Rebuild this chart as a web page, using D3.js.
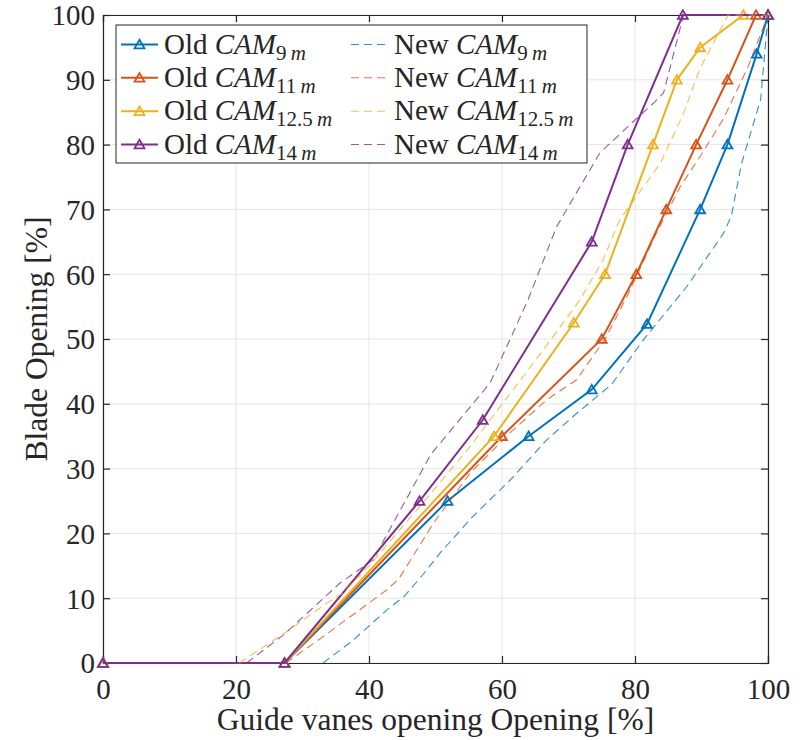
<!DOCTYPE html>
<html><head><meta charset="utf-8">
<script src="https://cdn.jsdelivr.net/npm/d3@7"></script>
<style>body{margin:0;background:#fff}</style>
</head><body><svg id="c" width="804" height="740"></svg>
<script>
// ---------- data ----------
const xTicks = [0, 20, 40, 60, 80, 100];
const yTicks = [0, 10, 20, 30, 40, 50, 60, 70, 80, 90, 100];

const oldX9   = [0, 27.3, 51.8, 64, 73.5, 81.8, 89.8, 93.9, 98.3, 100];
const oldY9   = [0, 0, 25, 35, 42.2, 52.3, 70, 80, 94, 100];
const oldX11  = [0, 27.3, 60, 75, 80.2, 84.7, 89.2, 93.9, 98.2, 100];
const oldY11  = [0, 0, 35, 50, 60, 70, 80, 90, 100, 100];
const oldX125 = [0, 27.3, 58.8, 70.8, 75.5, 82.7, 86.3, 89.8, 96.3, 100];
const oldY125 = [0, 0, 35, 52.5, 60, 80, 90, 95, 100, 100];
const oldX14  = [0, 27.3, 47.6, 57.1, 73.5, 78.9, 87.2, 100];
const oldY14  = [0, 0, 25, 37.5, 65, 80, 100, 100];

const newX9   = [33.1, 37.6, 42.7, 45.3, 48, 50.7, 55.6, 61.2, 66.7, 71.2, 76.5, 81.2, 87.8, 93.3, 94.5, 96, 98.9, 100];
const newY9   = [0, 3.5, 8.2, 10.3, 13.5, 17, 22.6, 28.2, 34.4, 38.5, 43, 49.8, 58.1, 66.3, 69, 77, 87, 100];
const newX11  = [27.5, 33, 42.7, 44.5, 49.7, 55.2, 61.2, 66.7, 71.2, 75.5, 79, 83.2, 86.8, 90, 93.3, 97, 100];
const newY11  = [0, 4, 11.3, 13, 21.6, 29.3, 35.5, 40.6, 43.7, 50, 57, 66.3, 73.5, 78.5, 84, 92, 100];
const newX125 = [20.5, 28, 33.6, 36.1, 40, 45, 50, 55.2, 58.2, 66.2, 71.7, 75.2, 77.7, 83.8, 87.2, 89.8, 94, 100];
const newY125 = [0, 5.1, 9.2, 10.8, 15, 21, 27, 33.4, 37.5, 48.3, 56, 62.2, 68.4, 77.1, 84.6, 91.8, 100, 100];
const newX14  = [21.6, 27.1, 35.6, 40.6, 49.3, 58.2, 63.9, 68.2, 74.7, 80, 83, 84.3, 87.3, 100];
const newY14  = [0, 4.3, 12.3, 15.9, 32.2, 43.2, 56, 67.3, 78.7, 83.8, 86.6, 88, 100, 100];

const subs   = ["9", "11", "12.5", "14"];
const colors = ["#0072BD", "#D95319", "#EDB120", "#7E2F8E"];
const xLabel = "Guide vanes opening Opening [%]";
const yLabel = "Blade Opening [%]";

// ---------- layout ----------
const FONT = "'Liberation Serif', 'Times New Roman', serif";
const svg = d3.select("#c");
const L = 103, R = 768, T = 15, B = 663;
const x = d3.scaleLinear().domain([0, 100]).range([L, R]);
const y = d3.scaleLinear().domain([0, 100]).range([B, T]);

// grid
const g = svg.append("g");
g.selectAll(".gx").data(xTicks).enter().append("line")
  .attr("x1", d => x(d)).attr("x2", d => x(d)).attr("y1", T).attr("y2", B)
  .attr("stroke", "#e5e5e5").attr("stroke-width", 1);
g.selectAll(".gy").data(yTicks).enter().append("line")
  .attr("y1", d => y(d)).attr("y2", d => y(d)).attr("x1", L).attr("x2", R)
  .attr("stroke", "#e5e5e5").attr("stroke-width", 1);

// axes
const axB = svg.append("g").attr("transform", `translate(0,${B})`)
  .call(d3.axisBottom(x).tickValues(xTicks).tickSize(-7).tickPadding(15));
const axT = svg.append("g").attr("transform", `translate(0,${T})`)
  .call(d3.axisTop(x).tickValues(xTicks).tickSize(-7).tickFormat(""));
const axL = svg.append("g").attr("transform", `translate(${L},0)`)
  .call(d3.axisLeft(y).tickValues(yTicks).tickSize(-7).tickPadding(8));
const axR = svg.append("g").attr("transform", `translate(${R},0)`)
  .call(d3.axisRight(y).tickValues(yTicks).tickSize(-7).tickFormat(""));
[axB, axT, axL, axR].forEach(a => {
  a.attr("font-family", null).attr("font-size", null);
  a.select(".domain").attr("stroke", "#262626").attr("stroke-width", 1.2);
  a.selectAll(".tick line").attr("stroke", "#262626").attr("stroke-width", 1.2);
  a.selectAll(".tick text").style("font-family", FONT).style("font-size", "29px").attr("fill", "#262626");
});
axB.selectAll(".tick text").attr("dy", "0.72em");
axL.selectAll(".tick text").attr("dy", "0.34em");

svg.append("text").attr("x", (L + R) / 2).attr("y", 730).attr("text-anchor", "middle")
  .style("font-family", FONT).style("font-size", "31.5px").attr("fill", "#262626").text(xLabel);
svg.append("text").attr("transform", `translate(47,${(T + B) / 2}) rotate(-90)`).attr("text-anchor", "middle")
  .style("font-family", FONT).style("font-size", "31.5px").attr("fill", "#262626").text(yLabel);

// series
const oldSeries = [[oldX9, oldY9], [oldX11, oldY11], [oldX125, oldY125], [oldX14, oldY14]];
const newSeries = [[newX9, newY9], [newX11, newY11], [newX125, newY125], [newX14, newY14]];
const line = d3.line().x(d => x(d[0])).y(d => y(d[1]));
const tri = d3.symbol().type(d3.symbolTriangle).size(42);

oldSeries.forEach((s, i) => {
  const pts = s[0].map((v, k) => [v, s[1][k]]);
  svg.append("path").datum(pts).attr("d", line).attr("fill", "none")
    .attr("stroke", colors[i]).attr("stroke-width", 2);
  svg.append("g").selectAll("path").data(pts).enter().append("path")
    .attr("d", tri).attr("transform", d => `translate(${x(d[0])},${y(d[1]) + 1})`)
    .attr("fill", "none").attr("stroke", colors[i]).attr("stroke-width", 1.8);
});
newSeries.forEach((s, i) => {
  const pts = s[0].map((v, k) => [v, s[1][k]]);
  svg.append("path").datum(pts).attr("d", line).attr("fill", "none")
    .attr("stroke", colors[i]).attr("stroke-width", 1.1).attr("stroke-opacity", 0.8)
    .attr("stroke-dasharray", "8,5");
});

// legend
const lg = svg.append("g");
lg.append("rect").attr("x", 116).attr("y", 25).attr("width", 471).attr("height", 138)
  .attr("fill", "#fff").attr("stroke", "#262626").attr("stroke-width", 1);
const rows = [44.5, 77.8, 111.2, 144.5];
function legText(xp, yp, word, sub) {
  const t = lg.append("text").attr("x", xp).attr("y", yp + 9)
    .style("font-family", FONT).style("font-size", "29px").attr("fill", "#262626");
  t.append("tspan").text(word + " ");
  t.append("tspan").style("font-style", "italic").text("CAM");
  t.append("tspan").style("font-size", "21px").attr("dy", 6).text(sub + "\u2009");
  t.append("tspan").style("font-size", "21px").style("font-style", "italic").text("m");
}
subs.forEach((s, i) => {
  const yy = rows[i];
  lg.append("line").attr("x1", 121).attr("x2", 158).attr("y1", yy).attr("y2", yy)
    .attr("stroke", colors[i]).attr("stroke-width", 2);
  lg.append("path").attr("d", tri).attr("transform", `translate(139.5,${yy + 1})`)
    .attr("fill", "none").attr("stroke", colors[i]).attr("stroke-width", 1.8);
  legText(164, yy, "Old", s);
  lg.append("line").attr("x1", 351).attr("x2", 388).attr("y1", yy).attr("y2", yy)
    .attr("stroke", colors[i]).attr("stroke-width", 1.1).attr("stroke-opacity", 0.8)
    .attr("stroke-dasharray", "8,5");
  legText(394, yy, "New", s);
});
</script></body></html>
